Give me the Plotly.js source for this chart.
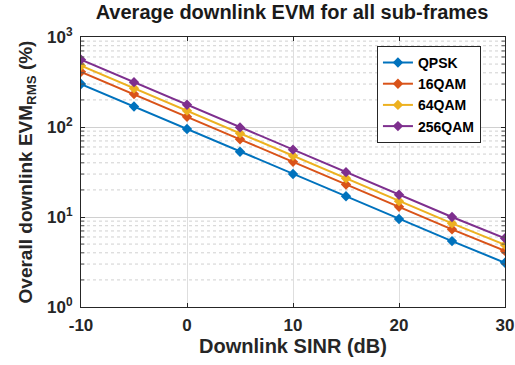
<!DOCTYPE html>
<html><head><meta charset="utf-8">
<script src="https://cdn.plot.ly/plotly-3.0.1.min.js"></script>
<style>body{margin:0;background:#fff}#c{width:515px;height:365px}</style>
</head><body><div id="c"></div>
<script>
const sinr = [-10,-5,0,5,10,15,20,25,30];
const qpsk = [300,169,95,53,30,17,9.5,5.4,3.1];
const qam16 = [410,232,130,73,41,23,13,7.3,4.2];
const qam64 = [480,270,152,85,48,27,15,8.5,4.9];
const qam256 = [560,315,177,99,56,31.5,17.7,10,5.8];
const names = ['QPSK','16QAM','64QAM','256QAM'];
const colors = ['#0072BD','#D95319','#EDB120','#7E2F8E'];
const series = [qpsk,qam16,qam64,qam256];
const yTickVals = [1,10,100,1000];
const yTickText = ['10<sup>0</sup>','10<sup>1</sup>','10<sup>2</sup>','10<sup>3</sup>'];
const xTickVals = [-10,0,10,20,30];

const traces = series.map((s,i)=>({
  x: sinr, y: s, name: names[i], type:'scatter', mode:'lines+markers',
  line:{color:colors[i], width:2},
  marker:{symbol:'diamond', size:8, color:colors[i]}
}));
// minor log gridlines (2..9 x each decade)
const shapes = [];
for (let d=0; d<3; d++) for (let k=2; k<10; k++) {
  const v = k*Math.pow(10,d);
  shapes.push({type:'line', xref:'paper', yref:'y', x0:0, x1:1, y0:v, y1:v, layer:'below',
    line:{color:'#d0d0d0', width:1, dash:'dot'}});
  shapes.push({type:'line', xref:'paper', yref:'y', x0:0, x1:0.008, y0:v, y1:v, line:{color:'#555', width:1}});
  shapes.push({type:'line', xref:'paper', yref:'y', x0:0.992, x1:1, y0:v, y1:v, line:{color:'#555', width:1}});
}
const F = 'Liberation Sans, Arial, sans-serif';
const layout = {
  width:515, height:365,
  margin:{l:81, r:10, t:37, b:58},
  paper_bgcolor:'#fff', plot_bgcolor:'#fff',
  font:{family:F, color:'#262626'},
  shapes: shapes,
  title:{text:'<b>Average downlink EVM for all sub-frames</b>', font:{size:20, family:F, color:'#1a1a1a'}, x:0.567, xanchor:'center', y:0.985, yanchor:'top'},
  showlegend:true,
  legend:{x:0.698, y:0.967, xanchor:'left', yanchor:'top', bgcolor:'#fff', bordercolor:'#262626', borderwidth:1, font:{size:14, family:F, color:'#000', weight:'bold'}, tracegroupgap:0, itemwidth:30},
  xaxis:{range:[-10,30], tickvals:xTickVals, ticktext:xTickVals.map(v=>'<b>'+v+'</b>'), ticks:'inside', ticklen:4, tickcolor:'#262626',
    showline:true, linecolor:'#262626', linewidth:1, mirror:'ticks', showgrid:true, gridcolor:'#dedede', zeroline:false,
    ticklabelstandoff:3,
    tickfont:{size:17, family:F, color:'#262626'},
    title:{text:'<b>Downlink SINR (dB)</b>', font:{size:20, family:F, color:'#262626'}, standoff:4}},
  yaxis:{type:'log', range:[0,3], tickvals:yTickVals, ticktext:yTickText.map(t=>'<b>'+t+'</b>'), ticks:'inside', ticklen:4, tickcolor:'#262626',
    showline:true, linecolor:'#262626', linewidth:1, mirror:'ticks', showgrid:true, gridcolor:'#d0d0d0', zeroline:false,
    ticklabelstandoff:4,
    tickfont:{size:17, family:F, color:'#262626'},
    title:{text:'<b>Overall downlink EVM<sub>RMS</sub> (%)</b>', font:{size:19, family:F, color:'#262626'}, standoff:9}}
};
Plotly.newPlot('c', traces, layout, {staticPlot:true, displayModeBar:false});
</script></body></html>
